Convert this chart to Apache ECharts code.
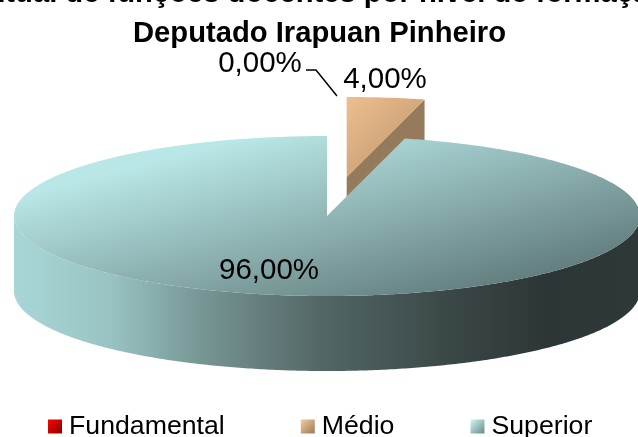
<!DOCTYPE html>
<html><head><meta charset="utf-8">
<style>html,body{margin:0;padding:0;background:#fff}#c{width:638px;height:437px}</style>
<script src="https://cdn.jsdelivr.net/npm/echarts@6/dist/echarts.min.js"></script>
</head><body><div id="c"></div>
<script>
const categories = ['Fundamental', 'Médio', 'Superior'];
const seriesValues = [0, 4, 96];
const titleLines = ['Percentual de funções docentes por nível de formação', 'Deputado Irapuan Pinheiro'];
const legendGradients = [['#ff0000', '#8a0000'], ['#f5cc9e', '#9a7a58'], ['#d0f8f8', '#6a8888']];

const G = echarts.graphic;
const FONT = '"Liberation Sans", Arial, sans-serif';
const cx = 327, cy = 216, rx = 313, ry = 80, depth = 75;
const total = seriesValues.reduce((a, b) => a + b, 0);
const pct = v => (v / total * 100).toFixed(2).replace('.', ',') + '%';
const startFrac = i => seriesValues.slice(0, i).reduce((a, b) => a + b, 0) / total;
const pt = (a, ox, oy) => [cx + ox + rx * Math.sin(a), cy + oy - ry * Math.cos(a)];
function arc(a0, a1, ox, oy) {
  const n = Math.max(2, Math.ceil(Math.abs(a1 - a0) / 0.01)), out = [];
  for (let k = 0; k <= n; k++) out.push(pt(a0 + (a1 - a0) * k / n, ox, oy));
  return out;
}
const poly = (points, fill, z2) => ({ type: 'polygon', z2: z2 || 0, shape: { points }, style: { fill, stroke: null } });
const text = (t, x, y, align, size) => ({ type: 'text', z2: 50, style: { text: t, x, y, align: align || 'center', verticalAlign: 'middle', font: (size || 29.5) + 'px ' + FONT, fill: '#000' } });

function renderFundamental(params, api) {
  const v = api.value(0);
  return { type: 'group', silent: true, children: [
    text(pct(v), 260, 64),
    { type: 'polyline', z2: 40, shape: { points: [[306, 70], [316, 70], [337, 96]] }, style: { stroke: '#000', lineWidth: 1.5, fill: null } }
  ] };
}
function renderMedio(params, api) {
  const v = api.value(0);
  const a0 = 2 * Math.PI * startFrac(1), a1 = a0 + 2 * Math.PI * v / total;
  const ox = 19.7, oy = -39;
  const apex = [cx + ox, cy + oy];
  const p1 = pt(a1, ox, oy), sideFill = '#967a5c';
  const topFill = new G.LinearGradient(0.05, 0, 0.85, 0.8, [{ offset: 0, color: '#ecbe8e' }, { offset: 1, color: '#c39a72' }]);
  return { type: 'group', silent: true, children: [
    poly([apex, p1, [p1[0], p1[1] + depth], [apex[0], apex[1] + depth]], sideFill, 1),
    poly([apex].concat(arc(a0, a1, ox, oy)), topFill, 2),
    text(pct(v), 385, 80)
  ] };
}
function renderSuperior(params, api) {
  const v = api.value(0);
  const a0 = 2 * Math.PI * startFrac(2), a1 = a0 + 2 * Math.PI * v / total;
  const centre = [cx, cy];
  const wallFill = new G.LinearGradient(14, 0, 640, 0, [
    { offset: 0, color: '#a8d6d6' }, { offset: 0.15, color: '#9ac4c4' }, { offset: 0.3, color: '#769694' },
    { offset: 0.5, color: '#526464' }, { offset: 0.7, color: '#3a4747' }, { offset: 0.85, color: '#2d3637' }, { offset: 1, color: '#2d3838' }
  ], true);
  const topFill = new G.LinearGradient(49, 189, 115, 446, [{ offset: 0, color: '#b9e6e6' }, { offset: 1, color: '#4a6060' }], true);
  const lower = arc(Math.PI / 2, 3 * Math.PI / 2, 0, 0);
  const lowerDown = lower.map(p => [p[0], p[1] + depth]).reverse();
  return { type: 'group', silent: true, children: [
    poly(lower.concat(lowerDown), wallFill, 3),
    poly([centre].concat(arc(a0, a1, 0, 0)), topFill, 4),
    text(pct(v), 269, 271)
  ] };
}
const renderers = [renderFundamental, renderMedio, renderSuperior];
const legendFill = c => new G.LinearGradient(0, 0, 1, 1, [{ offset: 0, color: c[0] }, { offset: 1, color: c[1] }]);
const titleStyle = { fontFamily: FONT, fontWeight: 'bold', fontSize: 29.2, color: '#000' };

const chart = echarts.init(document.getElementById('c'), null, { renderer: 'canvas' });
chart.setOption({
  animation: false,
  backgroundColor: '#fff',
  title: [
    { text: titleLines[0], left: -92, top: -21, padding: 0, textStyle: titleStyle },
    { text: titleLines[1], left: 319.5, textAlign: 'center', top: 19, padding: 0, textStyle: titleStyle }
  ],
  legend: { left: 43, top: 408, itemWidth: 14, itemHeight: 14, itemGap: 76, icon: 'rect', selectedMode: false,
    textStyle: { fontFamily: FONT, fontSize: 26.7, color: '#000', padding: [0, 0, 0, 2] }, data: categories },
  series: categories.map((name, i) => ({
    type: 'custom', name, coordinateSystem: 'none', silent: true,
    itemStyle: { color: legendFill(legendGradients[i]) },
    data: [[seriesValues[i]]], renderItem: renderers[i], z: i + 2
  }))
});
</script></body></html>
